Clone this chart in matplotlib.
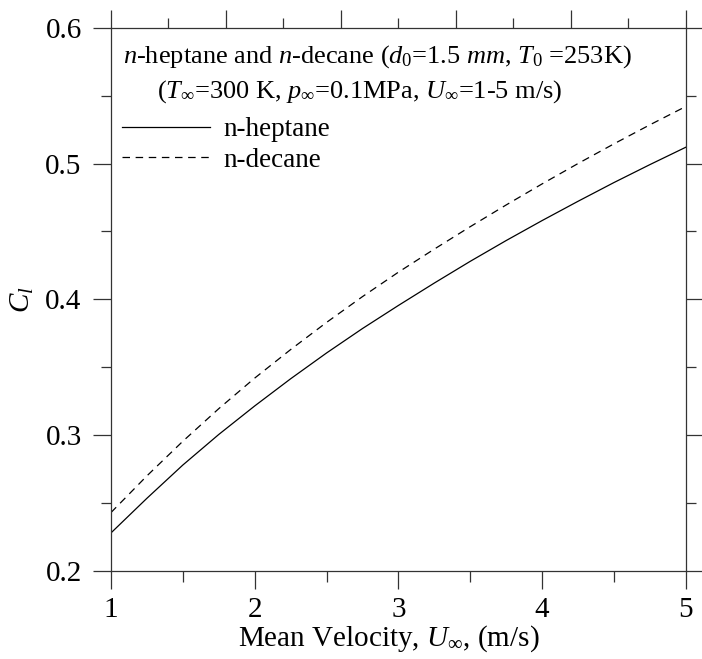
import matplotlib
matplotlib.use("Agg")
import matplotlib.pyplot as plt
from matplotlib.ticker import MultipleLocator, FixedLocator, NullFormatter

plt.rcParams['font.family'] = ['Liberation Serif', 'DejaVu Serif']
plt.rcParams['mathtext.fontset'] = 'custom'
plt.rcParams['mathtext.rm'] = 'Liberation Serif'
plt.rcParams['mathtext.it'] = 'Liberation Serif:italic'

# values
velocity = [1.0, 1.25, 1.5, 1.75, 2.0, 2.25, 2.5, 2.75, 3.0,
            3.25, 3.5, 3.75, 4.0, 4.25, 4.5, 4.75, 5.0]
cl_heptane = [0.228, 0.2535, 0.278, 0.3005, 0.3215, 0.3415, 0.3605, 0.3785, 0.3955,
              0.412, 0.428, 0.4433, 0.458, 0.4722, 0.486, 0.4992, 0.512]
cl_decane = [0.243, 0.270, 0.2955, 0.3195, 0.342, 0.363, 0.383, 0.402, 0.420,
             0.437, 0.4535, 0.4695, 0.485, 0.500, 0.5145, 0.5285, 0.542]
top_major = [1.0, 1.8, 2.6, 3.4, 4.2, 5.0]
top_minor = [1.4, 2.2, 3.0, 3.8, 4.6]

fig = plt.figure(figsize=(7.02, 6.59), dpi=100)
ax = fig.add_axes([0.158, 0.1335, 0.819, 0.8245])

ax.plot(velocity, cl_heptane, color='black', lw=0.9, label='n-heptane')
ax.plot(velocity, cl_decane, color='black', lw=0.9, dashes=(6, 4.5), label='n-decane')

ax.set_xlim(1, 5)
ax.set_ylim(0.2, 0.6)
ax.xaxis.set_major_locator(MultipleLocator(1))
ax.xaxis.set_minor_locator(MultipleLocator(0.5))
ax.yaxis.set_major_locator(MultipleLocator(0.1))
ax.yaxis.set_minor_locator(MultipleLocator(0.05))
ax.yaxis.set_major_formatter(plt.FuncFormatter(lambda v, p: f"{v:.1f}"))

edge = '#333333'
for s in ax.spines.values():
    s.set_linewidth(0.9)
    s.set_color(edge)
ax.tick_params(which='both', direction='out', top=False, right=True,
               color=edge, width=0.9, labelsize=21)
ax.tick_params(which='major', length=13)
ax.tick_params(which='minor', length=7)
ax.tick_params(axis='x', which='minor', length=8)
ax.tick_params(axis='x', pad=6)
ax.tick_params(axis='y', pad=8)

# top axis carries its own tick spacing
sec = ax.secondary_xaxis('top')
sec.xaxis.set_major_locator(FixedLocator(top_major))
sec.xaxis.set_minor_locator(FixedLocator(top_minor))
sec.xaxis.set_major_formatter(NullFormatter())
sec.spines['top'].set_visible(False)
sec.tick_params(which='both', direction='out', color=edge, width=0.9)
sec.tick_params(which='major', length=13)
sec.tick_params(which='minor', length=7)

ax.set_xlabel(r"Mean Velocity, $U_\infty$, (m/s)", fontsize=21, labelpad=0)
ax.xaxis.label.set_x(0.483)
ax.set_ylabel(r"$C_l$", fontsize=21, labelpad=7)

ax.text(0.021, 0.9466, r"$n$-heptane and $n$-decane ($d_{\mathit{0}}$=1.5 $mm$, $T_{\mathit{0}}$ =253K)",
        transform=ax.transAxes, fontsize=19, va='center', ha='left')
ax.text(0.08, 0.882, r"($T_\infty$=300 K, $p_\infty$=0.1MPa, $U_\infty$=1-5 m/s)",
        transform=ax.transAxes, fontsize=19, va='center', ha='left')

ax.legend(loc='upper left', bbox_to_anchor=(0.0, 0.855), frameon=False, fontsize=19.5,
          handlelength=3.25, handletextpad=0.5, labelspacing=0.2, borderaxespad=0.2,
          borderpad=0.2)

fig.savefig("out.png", dpi=100)
